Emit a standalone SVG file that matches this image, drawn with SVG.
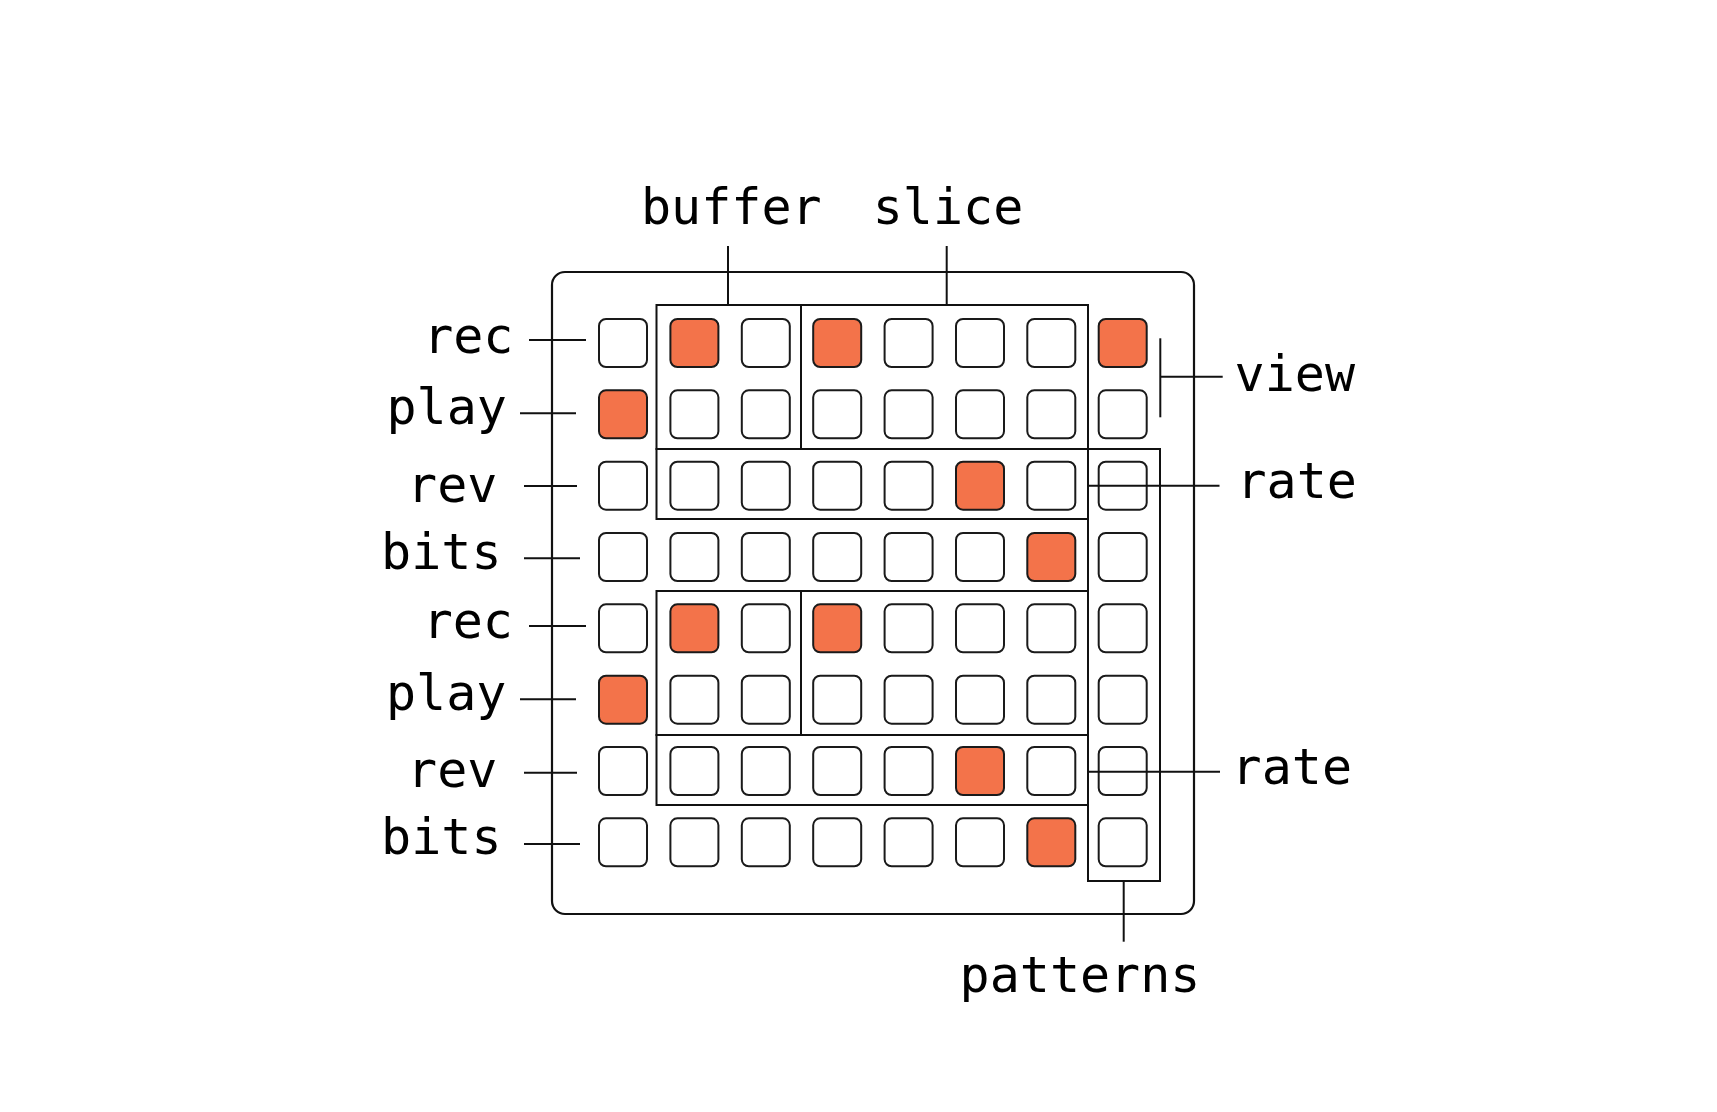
<svg xmlns="http://www.w3.org/2000/svg" width="1717" height="1112" viewBox="0 0 1717 1112">
<style>
.bg{fill:#ffffff}
.frame{fill:none;stroke:#111;stroke-width:2.2}
.box{fill:none;stroke:#111;stroke-width:2}
.btn{fill:#ffffff;stroke:#1a1a1a;stroke-width:2}
.on{fill:#F3734A}
.ln{stroke:#111;stroke-width:2;fill:none}
.lbl{font-family:"DejaVu Sans Mono","Liberation Mono",monospace;font-size:50px;fill:#000;text-anchor:middle}
</style>
<rect class="bg" x="0" y="0" width="1717" height="1112"/>
<g id="frame"><rect class="frame" x="552" y="272" width="642" height="642" rx="13"/></g>
<g id="regions">
  <g id="buffer-box-1"><rect class="box" x="656.5" y="305" width="144.5" height="144"/></g>
  <g id="slice-box-1"><rect class="box" x="801" y="305" width="287" height="144"/></g>
  <g id="rate-box-1"><rect class="box" x="656.5" y="449" width="431.5" height="70"/></g>
  <g id="buffer-box-2"><rect class="box" x="656.5" y="591" width="144.5" height="144"/></g>
  <g id="slice-box-2"><rect class="box" x="801" y="591" width="287" height="144"/></g>
  <g id="rate-box-2"><rect class="box" x="656.5" y="735" width="431.5" height="70"/></g>
  <g id="patterns-box"><rect class="box" x="1088" y="449" width="72" height="432"/></g>
</g>
<g id="buttons">
  <g id="row0">
    <rect class="btn" x="599" y="319" width="48" height="48" rx="7"/>
    <rect class="btn on" x="670.4" y="319" width="48" height="48" rx="7"/>
    <rect class="btn" x="741.8" y="319" width="48" height="48" rx="7"/>
    <rect class="btn on" x="813.2" y="319" width="48" height="48" rx="7"/>
    <rect class="btn" x="884.6" y="319" width="48" height="48" rx="7"/>
    <rect class="btn" x="956" y="319" width="48" height="48" rx="7"/>
    <rect class="btn" x="1027.3" y="319" width="48" height="48" rx="7"/>
    <rect class="btn on" x="1098.7" y="319" width="48" height="48" rx="7"/>
  </g>
  <g id="row1">
    <rect class="btn on" x="599" y="390.3" width="48" height="48" rx="7"/>
    <rect class="btn" x="670.4" y="390.3" width="48" height="48" rx="7"/>
    <rect class="btn" x="741.8" y="390.3" width="48" height="48" rx="7"/>
    <rect class="btn" x="813.2" y="390.3" width="48" height="48" rx="7"/>
    <rect class="btn" x="884.6" y="390.3" width="48" height="48" rx="7"/>
    <rect class="btn" x="956" y="390.3" width="48" height="48" rx="7"/>
    <rect class="btn" x="1027.3" y="390.3" width="48" height="48" rx="7"/>
    <rect class="btn" x="1098.7" y="390.3" width="48" height="48" rx="7"/>
  </g>
  <g id="row2">
    <rect class="btn" x="599" y="461.7" width="48" height="48" rx="7"/>
    <rect class="btn" x="670.4" y="461.7" width="48" height="48" rx="7"/>
    <rect class="btn" x="741.8" y="461.7" width="48" height="48" rx="7"/>
    <rect class="btn" x="813.2" y="461.7" width="48" height="48" rx="7"/>
    <rect class="btn" x="884.6" y="461.7" width="48" height="48" rx="7"/>
    <rect class="btn on" x="956" y="461.7" width="48" height="48" rx="7"/>
    <rect class="btn" x="1027.3" y="461.7" width="48" height="48" rx="7"/>
    <rect class="btn" x="1098.7" y="461.7" width="48" height="48" rx="7"/>
  </g>
  <g id="row3">
    <rect class="btn" x="599" y="533" width="48" height="48" rx="7"/>
    <rect class="btn" x="670.4" y="533" width="48" height="48" rx="7"/>
    <rect class="btn" x="741.8" y="533" width="48" height="48" rx="7"/>
    <rect class="btn" x="813.2" y="533" width="48" height="48" rx="7"/>
    <rect class="btn" x="884.6" y="533" width="48" height="48" rx="7"/>
    <rect class="btn" x="956" y="533" width="48" height="48" rx="7"/>
    <rect class="btn on" x="1027.3" y="533" width="48" height="48" rx="7"/>
    <rect class="btn" x="1098.7" y="533" width="48" height="48" rx="7"/>
  </g>
  <g id="row4">
    <rect class="btn" x="599" y="604.3" width="48" height="48" rx="7"/>
    <rect class="btn on" x="670.4" y="604.3" width="48" height="48" rx="7"/>
    <rect class="btn" x="741.8" y="604.3" width="48" height="48" rx="7"/>
    <rect class="btn on" x="813.2" y="604.3" width="48" height="48" rx="7"/>
    <rect class="btn" x="884.6" y="604.3" width="48" height="48" rx="7"/>
    <rect class="btn" x="956" y="604.3" width="48" height="48" rx="7"/>
    <rect class="btn" x="1027.3" y="604.3" width="48" height="48" rx="7"/>
    <rect class="btn" x="1098.7" y="604.3" width="48" height="48" rx="7"/>
  </g>
  <g id="row5">
    <rect class="btn on" x="599" y="675.7" width="48" height="48" rx="7"/>
    <rect class="btn" x="670.4" y="675.7" width="48" height="48" rx="7"/>
    <rect class="btn" x="741.8" y="675.7" width="48" height="48" rx="7"/>
    <rect class="btn" x="813.2" y="675.7" width="48" height="48" rx="7"/>
    <rect class="btn" x="884.6" y="675.7" width="48" height="48" rx="7"/>
    <rect class="btn" x="956" y="675.7" width="48" height="48" rx="7"/>
    <rect class="btn" x="1027.3" y="675.7" width="48" height="48" rx="7"/>
    <rect class="btn" x="1098.7" y="675.7" width="48" height="48" rx="7"/>
  </g>
  <g id="row6">
    <rect class="btn" x="599" y="747" width="48" height="48" rx="7"/>
    <rect class="btn" x="670.4" y="747" width="48" height="48" rx="7"/>
    <rect class="btn" x="741.8" y="747" width="48" height="48" rx="7"/>
    <rect class="btn" x="813.2" y="747" width="48" height="48" rx="7"/>
    <rect class="btn" x="884.6" y="747" width="48" height="48" rx="7"/>
    <rect class="btn on" x="956" y="747" width="48" height="48" rx="7"/>
    <rect class="btn" x="1027.3" y="747" width="48" height="48" rx="7"/>
    <rect class="btn" x="1098.7" y="747" width="48" height="48" rx="7"/>
  </g>
  <g id="row7">
    <rect class="btn" x="599" y="818.3" width="48" height="48" rx="7"/>
    <rect class="btn" x="670.4" y="818.3" width="48" height="48" rx="7"/>
    <rect class="btn" x="741.8" y="818.3" width="48" height="48" rx="7"/>
    <rect class="btn" x="813.2" y="818.3" width="48" height="48" rx="7"/>
    <rect class="btn" x="884.6" y="818.3" width="48" height="48" rx="7"/>
    <rect class="btn" x="956" y="818.3" width="48" height="48" rx="7"/>
    <rect class="btn on" x="1027.3" y="818.3" width="48" height="48" rx="7"/>
    <rect class="btn" x="1098.7" y="818.3" width="48" height="48" rx="7"/>
  </g>
</g>
<g id="connectors">
  <line class="ln" x1="529" y1="340" x2="586" y2="340"/>
  <line class="ln" x1="520" y1="413.3" x2="576" y2="413.3"/>
  <line class="ln" x1="524" y1="486" x2="577" y2="486"/>
  <line class="ln" x1="524" y1="558.3" x2="580" y2="558.3"/>
  <line class="ln" x1="529" y1="626" x2="586" y2="626"/>
  <line class="ln" x1="520" y1="699.3" x2="576" y2="699.3"/>
  <line class="ln" x1="524" y1="772.7" x2="577" y2="772.7"/>
  <line class="ln" x1="524" y1="844" x2="580" y2="844"/>
  <line class="ln" x1="728" y1="246" x2="728" y2="305"/>
  <line class="ln" x1="946.7" y1="246" x2="946.7" y2="305"/>
  <line class="ln" x1="1160.3" y1="338.3" x2="1160.3" y2="417.3"/>
  <line class="ln" x1="1160.3" y1="376.7" x2="1222.7" y2="376.7"/>
  <line class="ln" x1="1088.5" y1="485.7" x2="1219.5" y2="485.7"/>
  <line class="ln" x1="1088.5" y1="771.7" x2="1220" y2="771.7"/>
  <line class="ln" x1="1123.7" y1="881" x2="1123.7" y2="941.7"/>
</g>
<g id="labels">
  <g id="lbl-rec-1"><text class="lbl" x="468.3" y="352.7">rec</text></g>
  <g id="lbl-play-1"><text class="lbl" x="446.7" y="424">play</text></g>
  <g id="lbl-rev-1"><text class="lbl" x="452.2" y="501.7">rev</text></g>
  <g id="lbl-bits-1"><text class="lbl" x="441.3" y="569.3">bits</text></g>
  <g id="lbl-rec-2"><text class="lbl" x="467.8" y="638.3">rec</text></g>
  <g id="lbl-play-2"><text class="lbl" x="446.2" y="710">play</text></g>
  <g id="lbl-rev-2"><text class="lbl" x="452.2" y="786.7">rev</text></g>
  <g id="lbl-bits-2"><text class="lbl" x="441.3" y="854">bits</text></g>
  <g id="lbl-buffer"><text class="lbl" x="731.3" y="224.3">buffer</text></g>
  <g id="lbl-slice"><text class="lbl" x="948" y="224.3">slice</text></g>
  <g id="lbl-view"><text class="lbl" x="1294.8" y="391">view</text></g>
  <g id="lbl-rate-1"><text class="lbl" x="1296.7" y="498.3">rate</text></g>
  <g id="lbl-rate-2"><text class="lbl" x="1291.8" y="784">rate</text></g>
  <g id="lbl-patterns"><text class="lbl" x="1080" y="991.7">patterns</text></g>
</g>
</svg>
